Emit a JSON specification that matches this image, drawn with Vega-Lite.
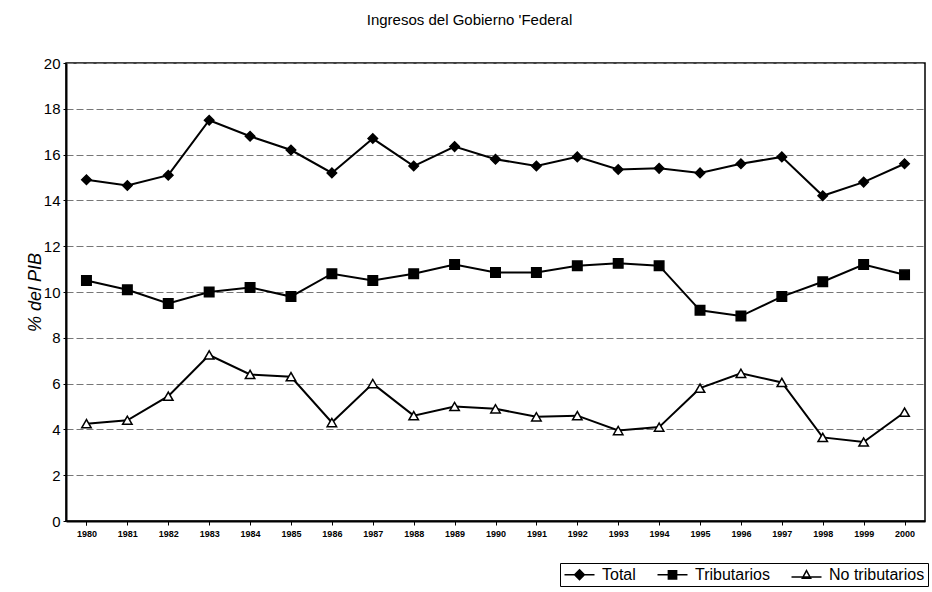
{
  "$schema": "https://vega.github.io/schema/vega-lite/v6.json",
  "width": 859,
  "height": 458,
  "autosize": {"type": "none"},
  "padding": {"left": 66, "top": 63, "right": 7, "bottom": 71},
  "background": "white",
  "title": {"text": "Ingresos del Gobierno 'Federal", "font": "Liberation Sans", "fontSize": 15, "fontWeight": "normal", "color": "black", "anchor": "middle", "offset": 28, "dx": -26},
  "config": {
    "view": {"stroke": "black", "strokeWidth": 1.5},
    "font": "Liberation Sans"
  },
  "data": {"values": [
    {"year": "1980", "series": "Total", "value": 14.9},
    {"year": "1981", "series": "Total", "value": 14.65},
    {"year": "1982", "series": "Total", "value": 15.1},
    {"year": "1983", "series": "Total", "value": 17.5},
    {"year": "1984", "series": "Total", "value": 16.8},
    {"year": "1985", "series": "Total", "value": 16.2},
    {"year": "1986", "series": "Total", "value": 15.2},
    {"year": "1987", "series": "Total", "value": 16.7},
    {"year": "1988", "series": "Total", "value": 15.5},
    {"year": "1989", "series": "Total", "value": 16.35},
    {"year": "1990", "series": "Total", "value": 15.8},
    {"year": "1991", "series": "Total", "value": 15.5},
    {"year": "1992", "series": "Total", "value": 15.9},
    {"year": "1993", "series": "Total", "value": 15.35},
    {"year": "1994", "series": "Total", "value": 15.4},
    {"year": "1995", "series": "Total", "value": 15.2},
    {"year": "1996", "series": "Total", "value": 15.6},
    {"year": "1997", "series": "Total", "value": 15.9},
    {"year": "1998", "series": "Total", "value": 14.2},
    {"year": "1999", "series": "Total", "value": 14.8},
    {"year": "2000", "series": "Total", "value": 15.6},
    {"year": "1980", "series": "Tributarios", "value": 10.5},
    {"year": "1981", "series": "Tributarios", "value": 10.1},
    {"year": "1982", "series": "Tributarios", "value": 9.5},
    {"year": "1983", "series": "Tributarios", "value": 10.0},
    {"year": "1984", "series": "Tributarios", "value": 10.2},
    {"year": "1985", "series": "Tributarios", "value": 9.8},
    {"year": "1986", "series": "Tributarios", "value": 10.8},
    {"year": "1987", "series": "Tributarios", "value": 10.5},
    {"year": "1988", "series": "Tributarios", "value": 10.8},
    {"year": "1989", "series": "Tributarios", "value": 11.2},
    {"year": "1990", "series": "Tributarios", "value": 10.85},
    {"year": "1991", "series": "Tributarios", "value": 10.85},
    {"year": "1992", "series": "Tributarios", "value": 11.15},
    {"year": "1993", "series": "Tributarios", "value": 11.25},
    {"year": "1994", "series": "Tributarios", "value": 11.15},
    {"year": "1995", "series": "Tributarios", "value": 9.2},
    {"year": "1996", "series": "Tributarios", "value": 8.95},
    {"year": "1997", "series": "Tributarios", "value": 9.8},
    {"year": "1998", "series": "Tributarios", "value": 10.45},
    {"year": "1999", "series": "Tributarios", "value": 11.2},
    {"year": "2000", "series": "Tributarios", "value": 10.75},
    {"year": "1980", "series": "No tributarios", "value": 4.25},
    {"year": "1981", "series": "No tributarios", "value": 4.4},
    {"year": "1982", "series": "No tributarios", "value": 5.45},
    {"year": "1983", "series": "No tributarios", "value": 7.25},
    {"year": "1984", "series": "No tributarios", "value": 6.4},
    {"year": "1985", "series": "No tributarios", "value": 6.3},
    {"year": "1986", "series": "No tributarios", "value": 4.3},
    {"year": "1987", "series": "No tributarios", "value": 6.0},
    {"year": "1988", "series": "No tributarios", "value": 4.6},
    {"year": "1989", "series": "No tributarios", "value": 5.0},
    {"year": "1990", "series": "No tributarios", "value": 4.9},
    {"year": "1991", "series": "No tributarios", "value": 4.55},
    {"year": "1992", "series": "No tributarios", "value": 4.6},
    {"year": "1993", "series": "No tributarios", "value": 3.95},
    {"year": "1994", "series": "No tributarios", "value": 4.1},
    {"year": "1995", "series": "No tributarios", "value": 5.8},
    {"year": "1996", "series": "No tributarios", "value": 6.45},
    {"year": "1997", "series": "No tributarios", "value": 6.05},
    {"year": "1998", "series": "No tributarios", "value": 3.65},
    {"year": "1999", "series": "No tributarios", "value": 3.45},
    {"year": "2000", "series": "No tributarios", "value": 4.75}
  ]},
  "encoding": {
    "x": {
      "field": "year", "type": "ordinal", "title": null,
      "scale": {"type": "point", "padding": 0.5},
      "axis": {"labelAngle": 0, "labelFontSize": 9, "labelFontWeight": "bold", "labelColor": "black", "labelPadding": 4, "domainColor": "black", "domainWidth": 2, "tickColor": "black", "tickSize": 4, "tickBand": "extent", "grid": false}
    },
    "y": {
      "field": "value", "type": "quantitative", "title": "% del PIB",
      "scale": {"domain": [0, 20], "nice": false},
      "axis": {"values": [0, 2, 4, 6, 8, 10, 12, 14, 16, 18, 20], "labelFontSize": 15, "labelColor": "black", "labelPadding": 3, "tickSize": 3, "tickColor": "black", "domainColor": "black", "domainWidth": 2, "grid": true, "gridColor": "#777777", "gridDash": [7, 3], "gridWidth": 1, "titleFontSize": 18, "titleFontStyle": "italic", "titleFontWeight": "normal", "titleColor": "black", "titlePadding": -1}
    }
  },
  "layer": [
    {
      "mark": {"type": "line", "color": "black", "strokeWidth": 2},
      "encoding": {"detail": {"field": "series"}}
    },
    {
      "mark": {"type": "point", "stroke": "black", "strokeWidth": 1.5, "size": 90, "opacity": 1},
      "encoding": {
        "shape": {"field": "series", "type": "nominal", "scale": {"domain": ["Total", "Tributarios", "No tributarios"], "range": ["diamond", "square", "triangle-up"]}, "legend": null},
        "fill": {"field": "series", "type": "nominal", "scale": {"domain": ["Total", "Tributarios", "No tributarios"], "range": ["black", "black", "white"]}, "legend": null}
      }
    },
    {
      "transform": [{"filter": "datum.value > 100"}],
      "mark": {"type": "point", "stroke": "black", "strokeWidth": 1.5, "opacity": 1},
      "encoding": {
        "shape": {"field": "series", "type": "nominal", "title": null, "scale": {"domain": ["Total", "Tributarios", "No tributarios"], "range": ["M-2,0H2M0,-0.65L0.65,0L0,0.65L-0.65,0Z", "M-2,0H2M-0.55,-0.55H0.55V0.55H-0.55Z", "M-2,0.3H2M0,-0.55L0.55,0.45H-0.55Z"]},
          "legend": {"orient": "none", "legendX": 494, "legendY": 500, "direction": "horizontal", "strokeColor": "black", "padding": 3, "labelFontSize": 16, "labelColor": "black", "symbolSize": 225, "symbolOffset": 8, "columnPadding": 18, "labelOffset": 14,
            "encode": {"symbols": {"update": {"stroke": {"value": "black"}, "strokeWidth": {"value": 1.5}, "opacity": {"value": 1}}}}}},
        "fill": {"field": "series", "type": "nominal", "title": null, "scale": {"domain": ["Total", "Tributarios", "No tributarios"], "range": ["black", "black", "white"]}}
      }
    }
  ],
  "resolve": {"scale": {"shape": "independent", "fill": "independent"}, "legend": {"shape": "independent", "fill": "independent"}}
}
